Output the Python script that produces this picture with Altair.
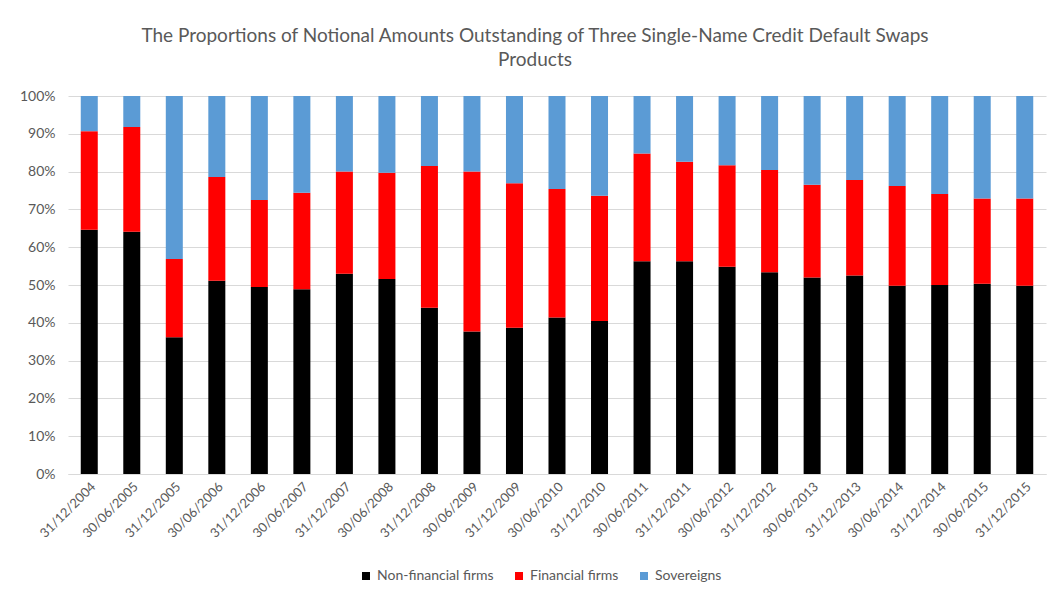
import altair as alt
import pandas as pd

dates = ["31/12/2004", "30/06/2005", "31/12/2005", "30/06/2006", "31/12/2006",
         "30/06/2007", "31/12/2007", "30/06/2008", "31/12/2008", "30/06/2009",
         "31/12/2009", "30/06/2010", "31/12/2010", "30/06/2011", "31/12/2011",
         "30/06/2012", "31/12/2012", "30/06/2013", "31/12/2013", "30/06/2014",
         "31/12/2014", "30/06/2015", "31/12/2015"]

non_financial = [64.6, 64.1, 36.2, 51.1, 49.5, 48.9, 53.0, 51.6, 44.0, 37.7,
                 38.7, 41.4, 40.5, 56.3, 56.3, 54.8, 53.4, 52.0, 52.5, 49.8,
                 50.0, 50.3, 49.8]
financial = [26.1, 27.7, 20.7, 27.5, 23.0, 25.5, 27.0, 28.1, 37.5, 42.3,
             38.2, 34.0, 33.1, 28.5, 26.3, 26.9, 27.0, 24.5, 25.3, 26.4,
             24.1, 22.6, 23.1]
sovereigns = [9.3, 8.2, 43.1, 21.4, 27.5, 25.6, 20.0, 20.3, 18.5, 20.0,
              23.1, 24.6, 26.4, 15.2, 17.4, 18.3, 19.6, 23.5, 22.2, 23.8,
              25.9, 27.1, 27.1]

series_names = ["Non-financial firms", "Financial firms", "Sovereigns"]
series_colors = ["#000000", "#FF0000", "#5B9BD5"]
y_ticks = [0, 10, 20, 30, 40, 50, 60, 70, 80, 90, 100]

rows = []
for k, (name, vals) in enumerate(zip(series_names, [non_financial, financial, sovereigns])):
    for d, v in zip(dates, vals):
        rows.append({"date": d, "series": name, "value": v, "order": k})
df = pd.DataFrame(rows)

FONT = "Lato"
GRAY = "#595959"

chart = alt.Chart(df).mark_bar().encode(
    x=alt.X("date:N", sort=dates, title=None,
            scale=alt.Scale(paddingInner=0.6, paddingOuter=0.3),
            axis=alt.Axis(labelAngle=-45, labelFontSize=13, labelColor=GRAY,
                          labelFont=FONT, ticks=False, domainColor="#d9d9d9",
                          labelPadding=6, grid=False)),
    y=alt.Y("value:Q", stack="zero", title=None,
            scale=alt.Scale(domain=[0, 100], nice=False),
            axis=alt.Axis(values=y_ticks, labelExpr="datum.value + '%'",
                          labelFontSize=14, labelColor=GRAY, labelFont=FONT,
                          ticks=False, domain=False, gridColor="#d9d9d9",
                          labelPadding=13)),
    color=alt.Color("series:N",
                    scale=alt.Scale(domain=series_names, range=series_colors),
                    legend=alt.Legend(title=None, orient="none", direction="horizontal",
                                      legendX=291, legendY=473, symbolType="square",
                                      symbolSize=64, symbolStrokeWidth=0,
                                      labelFontSize=14, labelColor=GRAY, labelFont=FONT,
                                      columnPadding=18, labelOffset=4, padding=0)),
    order=alt.Order("order:Q", sort="ascending"),
).properties(
    width=978,
    height=378,
    title=alt.TitleParams(
        text=["The Proportions of Notional Amounts Outstanding of Three Single-Name Credit Default Swaps",
              "Products"],
        anchor="middle", frame="group", dx=-22, dy=23, offset=27, fontSize=19,
        font=FONT, fontWeight="normal", color=GRAY, lineHeight=24, baseline="alphabetic"),
    autosize=alt.AutoSizeParams(type="none"),
    padding={"left": 68, "top": 96, "right": 6, "bottom": 122},
).configure_view(stroke=None)

chart.save("out.html", embed_options={"renderer": "svg", "actions": False})
